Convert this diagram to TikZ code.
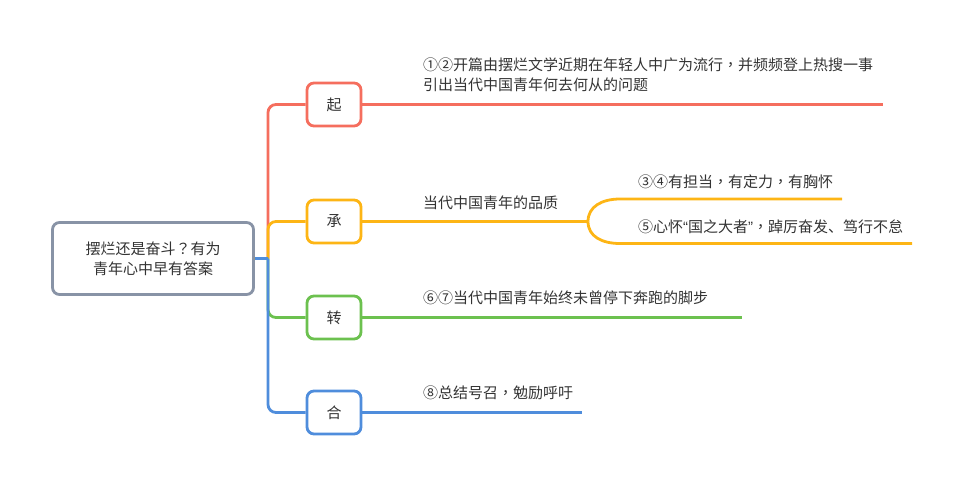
\documentclass[tikz,border=0pt]{standalone}
\usepackage{fontspec}
\setmainfont{Noto Sans CJK SC}
\newfontfamily\tcfont{Noto Sans CJK TC}
\newfontfamily\latfont{Liberation Sans}

% Puntuacion centrada, cifras de ancho completo y comillas estrechas
\newcommand{\puntc}[1]{{\tcfont #1}}
\newcommand{\cifra}[1]{\makebox[1em]{#1}}
\newcommand{\comillas}[1]{{\latfont “}#1{\latfont ”}}

\definecolor{rojo}{HTML}{F56E5E}
\definecolor{naranja}{HTML}{FDB515}
\definecolor{verde}{HTML}{6CC14F}
\definecolor{azul}{HTML}{4F8DDC}
\definecolor{gris}{HTML}{8893A6}
\definecolor{texto}{HTML}{333333}

\begin{document}
\begin{tikzpicture}[x=1pt, y=-1pt,
    caja/.style={draw, line width=2.8pt, rounded corners=7pt, fill=white, text=texto,
      minimum width=54pt, minimum height=43pt, inner sep=0pt,
      font=\fontsize{15}{20}\selectfont},
    hoja/.style={anchor=west, inner sep=0pt, text=texto, align=left,
      font=\fontsize{15}{20}\selectfont},
    rama/.style={line width=2.8pt}]

    \useasboundingbox (0,0) rectangle (962,485);

    % Definir columnas
    \def\xr{334} % centro de las ramas
    \def\xe{268} % eje vertical
    \def\xt{423} % inicio de los textos

    % Nodo central y ramas
    \node[caja, draw=gris, minimum width=201pt, minimum height=72pt, align=center] (raiz) at (153,258.5) {摆烂还是奋斗\puntc{？}有为\\青年心中早有答案};
    \node[caja, draw=rojo] (qi) at (\xr,104.5) {起};
    \node[caja, draw=naranja] (cheng) at (\xr,221.5) {承};
    \node[caja, draw=verde] (zhuan) at (\xr,317.5) {转};
    \node[caja, draw=azul] (he) at (\xr,412.5) {合};

    % Puntos auxiliares
    \coordinate (eje) at (\xe,258.5);
    \coordinate (qi-fin) at (883,104.5);
    \coordinate (bif) at (588,221.5);
    \coordinate (c1-ini) at (620,199);
    \coordinate (c1-fin) at (842,199);
    \coordinate (c2-ini) at (620,243.5);
    \coordinate (c2-fin) at (912,243.5);
    \coordinate (zhuan-fin) at (742,317.5);
    \coordinate (he-fin) at (582,412.5);

    % Conectores desde el nodo central
    \draw[rama, rojo] (raiz.east) -- (eje) (eje) [rounded corners=8pt] |- (qi.west);
    \draw[rama, naranja] (raiz.east) -- (eje) (eje) [rounded corners=8pt] |- (cheng.west);
    \draw[rama, verde] (raiz.east) -- (eje) (eje) [rounded corners=8pt] |- (zhuan.west);
    \draw[rama, azul] (raiz.east) -- (eje) (eje) [rounded corners=8pt] |- (he.west);

    % Lineas de las hojas
    \draw[rama, rojo] (qi.east) -- (qi-fin);
    \draw[rama, naranja] (cheng.east) -- (bif);
    \draw[rama, naranja] (bif) .. controls +(0,-15) and +(-18,0) .. (c1-ini) -- (c1-fin);
    \draw[rama, naranja] (bif) .. controls +(0,15) and +(-18,0) .. (c2-ini) -- (c2-fin);
    \draw[rama, verde] (zhuan.east) -- (zhuan-fin);
    \draw[rama, azul] (he.east) -- (he-fin);

    % Textos
    \node[hoja] (t-qi) at (\xt,75) {\cifra{①}\cifra{②}开篇由摆烂文学近期在年轻人中广为流行\puntc{，}并频频登上热搜一事\\引出当代中国青年何去何从的问题};
    \node[hoja] (t-cheng) at (\xt,203) {当代中国青年的品质};
    \node[hoja] (t-c1) at (638,182) {\cifra{③}\cifra{④}有担当\puntc{，}有定力\puntc{，}有胸怀};
    \node[hoja] (t-c2) at (638,227) {\cifra{⑤}心怀\comillas{国之大者}\puntc{，}踔厉奋发、笃行不怠};
    \node[hoja] (t-zhuan) at (\xt,298) {\cifra{⑥}\cifra{⑦}当代中国青年始终未曾停下奔跑的脚步};
    \node[hoja] (t-he) at (\xt,393) {\cifra{⑧}总结号召\puntc{，}勉励呼吁};
\end{tikzpicture}
\end{document}
